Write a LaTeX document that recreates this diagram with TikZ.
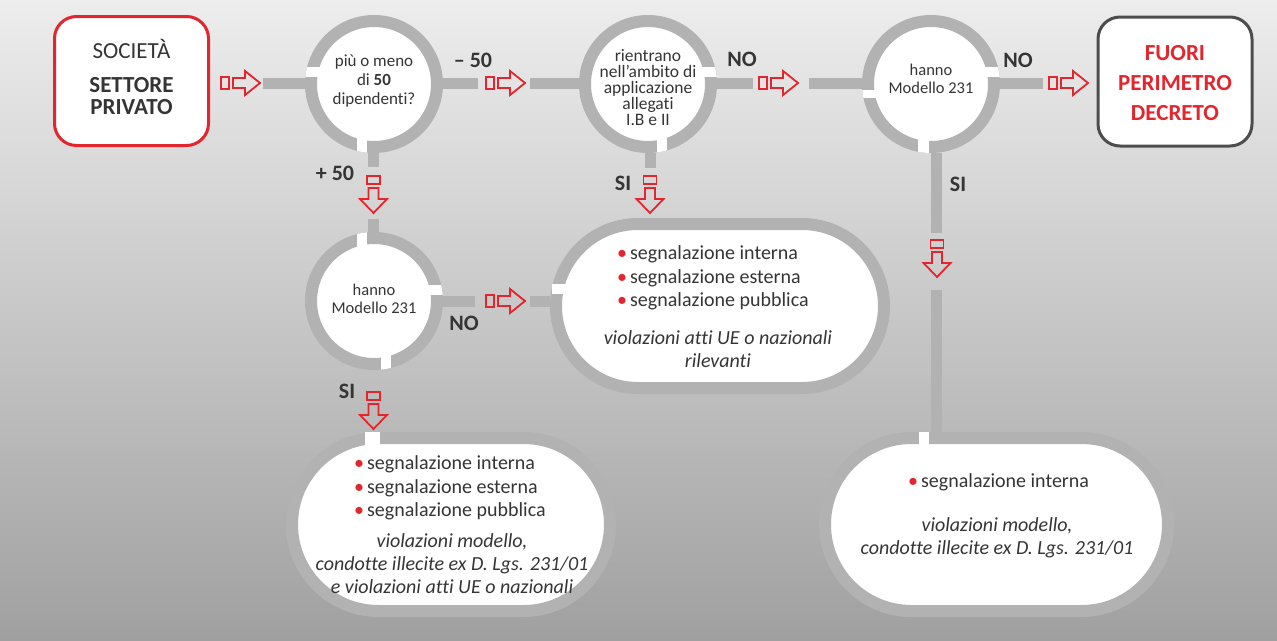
\documentclass[tikz,border=0pt]{standalone}
\usepackage{fontspec}
\setmainfont{Carlito}[Ligatures={TeX,NoCommon}]
\usetikzlibrary{shapes.misc}
\definecolor{cred}{HTML}{E3262D}
\definecolor{ringgray}{HTML}{B2B2B2}
\definecolor{txt}{HTML}{353535}
\definecolor{bgtop}{HTML}{EDEDED}
\definecolor{bgbot}{HTML}{A0A0A0}
\definecolor{boxgray}{HTML}{4D4D4D}
\newcommand\myfs[2]{\fontsize{#1}{#2}\selectfont\lineskiplimit=-100pt\relax}
\newcommand\bul{\textcolor{cred}{•}\hspace{3pt}}
\newcommand\ringgap[4]{\begin{scope}\clip (#1) circle (69); \fill[white] (#2,#3) rectangle (#4);\end{scope}}
\begin{document}
\begin{tikzpicture}[x=1pt,y=-1pt,
 ring/.style={circle,draw=ringgray,line width=12pt,fill=white,minimum size=126pt,inner sep=0pt},
 pill/.style={rounded rectangle,draw=ringgray,line width=12pt,fill=white,inner sep=0pt},
 endbox/.style={rectangle,rounded corners=22pt,fill=white,line width=3pt,minimum width=154pt,minimum height=129pt,inner sep=0pt},
 bar/.style={draw=ringgray,line width=11pt},
 arr/.style={draw=cred,line width=1.8pt,line join=miter},
 lbl/.style={font=\myfs{22}{24}\bfseries,text=txt,inner sep=0pt},
 qtxt/.style={text=txt,inner sep=0pt,align=center},
 list/.style={text=txt,inner sep=0pt,align=left,font=\myfs{20}{23.5},anchor=west},
 note/.style={text=txt,inner sep=0pt,align=center,font=\myfs{20}{23}\itshape},
 rarr/.pic={\draw[arr] (0,-6) rectangle (8,6);
   \draw[arr] (12,-5) -- (24,-5) -- (24,-12) -- (39,0) -- (24,12) -- (24,5) -- (12,5) -- cycle;},
 darr/.pic={\draw[arr] (-6.5,0) rectangle (6.5,8);
   \draw[arr] (-5,12) -- (-5,23) -- (-13.5,23) -- (0,37) -- (13.5,23) -- (5,23) -- (5,12) -- cycle;}
]
\useasboundingbox (0,0) rectangle (1277,640);
\shade[top color=bgtop,bottom color=bgbot] (0,0) rectangle (1277,640);

% shapes
\node[endbox,draw=cred] (soc) at (131.5,81) {};
\node[endbox,draw=boxgray] (fuori) at (1175,81.5) {};
\node[ring] (c1) at (374,84) {};
\node[ring] (c2) at (648,84) {};
\node[ring] (c3) at (931,84) {};
\node[ring] (c4) at (374,301) {};
\node[pill,minimum width=328pt,minimum height=164pt] (p2) at (720,306) {};
\node[pill,minimum width=318pt,minimum height=173pt] (p3) at (451,524.5) {};
\node[pill,minimum width=343pt,minimum height=173pt] (p4) at (996.5,524.5) {};

% bars
\coordinate (b0s) at (263,83);
\coordinate (b1e) at (478,83);
\coordinate (b2s) at (530,83);
\coordinate (b3e) at (753,83);
\coordinate (b4s) at (809,83);
\coordinate (b5e) at (1043,83);
\coordinate (b6e) at (373.5,167);
\coordinate (b7s) at (373.5,219);
\coordinate (b8e) at (650,168);
\coordinate (b9e) at (936,233);
\coordinate (b10s) at (936,290);
\coordinate (b11e) at (475,301);
\coordinate (b12s) at (530,301);
\draw[bar] (b0s) -- (c1.west |- b0s);
\draw[bar] (c1.east |- b1e) -- (b1e);
\draw[bar] (b2s) -- (c2.west |- b2s);
\draw[bar] (c2.east |- b3e) -- (b3e);
\draw[bar] (b4s) -- (c3.west |- b4s);
\draw[bar] (c3.east |- b5e) -- (b5e);
\draw[bar] (b6e |- c1.south) -- (b6e);
\draw[bar] (b7s) -- (b7s |- c4.north);
\draw[bar] (b8e |- c2.south) -- (b8e);
\draw[bar] (b9e |- c3.south) -- (b9e);
\draw[bar] (b10s) -- (b10s |- p4.north);
\draw[bar] (c4.east |- b11e) -- (b11e);
\draw[bar] (b12s) -- (b12s -| p2.west);

% gaps in the rings
\ringgap{c1}{300}{67}{326,76.5}
\ringgap{c1}{357}{120}{367,160}
\ringgap{c2}{690}{67}{730,76.5}
\ringgap{c2}{657}{120}{667,160}
\ringgap{c3}{850}{89.5}{885,98}
\ringgap{c3}{975}{67}{1010,76.5}
\ringgap{c3}{918}{120}{928.5,160}
\ringgap{c4}{357}{220}{367,260}
\ringgap{c4}{420}{285}{450,294.5}
\ringgap{c4}{381}{340}{391,380}
\fill[white] (552,284) rectangle (567,293.5);
\fill[white] (365,432) rectangle (380,446);
\fill[white] (919,432) rectangle (928.5,446);

% texts
\node[qtxt,font=\myfs{23}{24}] (tsoc) at (131.5,49) {SOCIETÀ};
\node[qtxt,font=\myfs{23}{22}\bfseries] (tset) at (131.5,96) {SETTORE\\PRIVATO};
\node[qtxt,font=\myfs{23}{30}\bfseries,text=cred] (tfuori) at (1175,83) {FUORI\\PERIMETRO\\DECRETO};
\node[qtxt,font=\myfs{17}{19}] (t1) at (374,81) {più o meno\\di \textbf{50}\\dipendenti?};
\node[qtxt,font=\myfs{17.5}{16}] (t2) at (648,88) {rientrano\\nell'ambito di\\applicazione\\allegati\\I.B e II};
\node[qtxt,font=\myfs{16.5}{18}] (t3) at (931,79) {hanno\\Modello 231};
\node[qtxt,font=\myfs{16.5}{18}] (t4) at (374,299) {hanno\\Modello 231};
\node[list] (l2) at (617,278) {\bul segnalazione interna\\\bul segnalazione esterna\\\bul segnalazione pubblica};
\node[note] (n2) at (718,349) {violazioni atti UE o nazionali\\rilevanti};
\node[list] (l3) at (354,488) {\bul segnalazione interna\\\bul segnalazione esterna\\\bul segnalazione pubblica};
\node[note] (n3) at (452,564) {violazioni modello,\\condotte illecite ex D. Lgs. 231/01\\e violazioni atti UE o nazionali};
\node[list] (l4) at (908,482) {\bul segnalazione interna};
\node[note] (n4) at (997,538) {violazioni modello,\\condotte illecite ex D. Lgs. 231/01};

% labels
\node[lbl] (lm50) at (473,60) {– 50};
\node[lbl] (lp50) at (335,173) {+ 50};
\node[lbl] (lno1) at (742,59) {NO};
\node[lbl] (lsi1) at (623,183) {SI};
\node[lbl] (lno2) at (1018,60) {NO};
\node[lbl] (lsi2) at (958,184) {SI};
\node[lbl] (lno3) at (464,323) {NO};
\node[lbl] (lsi3) at (347,391) {SI};

% arrows
\pic at (221,83) {rarr};
\pic at (486,83) {rarr};
\pic at (759,83) {rarr};
\pic at (1049,83) {rarr};
\pic at (486,301) {rarr};
\pic at (373.5,176) {darr};
\pic at (650,176) {darr};
\pic at (937,240) {darr};
\pic at (373.5,392) {darr};
\end{tikzpicture}
\end{document}
